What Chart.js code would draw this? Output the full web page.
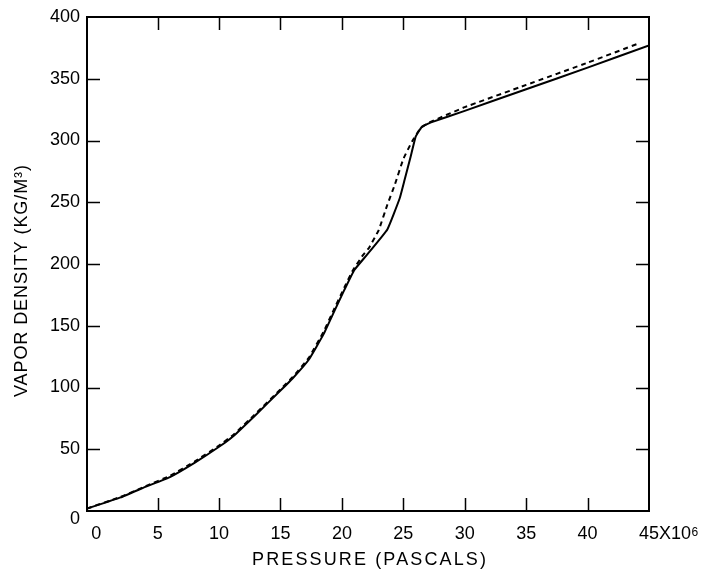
<!DOCTYPE html>
<html>
<head>
<meta charset="utf-8">
<script src="https://cdn.jsdelivr.net/npm/chart.js@4"></script>
<style>
  html, body { margin: 0; padding: 0; background: #fff; }
</style>
</head>
<body>
<canvas id="chart" width="707" height="580"></canvas>
<script>
// pressure in 10^6 Pa, density in kg/m3
const solidP = [-0.75, 2, 4, 6, 8, 10, 11.2, 13, 15, 16, 17.3, 18.5, 19.3, 20.2, 21, 22, 23.7, 24.7, 25.1, 25.6, 26.0, 26.5, 27.2, 30, 35, 40, 45];
const solidD = [2, 11, 19.5, 27.5, 39, 52, 61, 78, 97.5, 107.5, 122.5, 143, 160, 179, 195, 207, 228, 253, 268, 287, 303, 311, 314.5, 324, 341.5, 359, 377];

const dashP = [-0.75, 2, 4, 6, 8, 10, 11.2, 13, 15, 16, 17.3, 18.5, 19.3, 20.2, 20.9, 21.7, 22.2, 23.0, 23.7, 24.3, 25.0, 25.7, 26.4, 27.1, 30, 35, 40, 44];
const dashD = [2, 11.5, 20, 28.5, 40, 53, 62, 79, 98.5, 108.5, 124, 145, 162, 181, 195, 207, 213, 227.5, 248, 264, 285, 299, 310, 314.5, 327, 345, 363, 378];

const xTicks = [0, 5, 10, 15, 20, 25, 30, 35, 40, 45];
const yTicks = [0, 50, 100, 150, 200, 250, 300, 350, 400];

const xTitle = "PRESSURE (PASCALS)";
const yTitle = "VAPOR DENSITY (KG/M³)";
const xUnit = "X10";
const xUnitExp = "6";

const FONT = "'Liberation Sans', Arial, sans-serif";

function pts(xs, ys) {
  return xs.map((x, i) => ({ x: x, y: ys[i] }));
}

/* frame, inward ticks, titles */
const framePlugin = {
  id: "frame",
  afterDraw(chart) {
    const ctx = chart.ctx;
    const a = chart.chartArea;
    const xs = chart.scales.x;
    const ys = chart.scales.y;
    const tl = 13;

    ctx.save();
    ctx.strokeStyle = "#000";
    ctx.lineWidth = 2;
    ctx.strokeRect(a.left, a.top, a.right - a.left, a.bottom - a.top);

    ctx.lineWidth = 1.5;
    ctx.beginPath();
    xTicks.slice(1, -1).forEach(v => {
      const px = Math.round(xs.getPixelForValue(v)) + 0.5;
      ctx.moveTo(px, a.bottom); ctx.lineTo(px, a.bottom - tl);
      ctx.moveTo(px, a.top); ctx.lineTo(px, a.top + tl);
    });
    yTicks.slice(1, -1).forEach(v => {
      const py = Math.round(ys.getPixelForValue(v)) + 0.5;
      ctx.moveTo(a.left, py); ctx.lineTo(a.left + tl, py);
      ctx.moveTo(a.right, py); ctx.lineTo(a.right - tl, py);
    });
    ctx.stroke();

    // unit after the last x label
    ctx.fillStyle = "#000";
    ctx.font = "18px " + FONT;
    const lastX = xs.getPixelForValue(xTicks[xTicks.length - 1]);
    const lastW = ctx.measureText(String(xTicks[xTicks.length - 1])).width;
    ctx.textAlign = "left";
    ctx.textBaseline = "middle";
    const ux = lastX + lastW / 2;
    ctx.fillText(xUnit, ux, 534);
    const uw = ctx.measureText(xUnit).width;
    ctx.font = "12px " + FONT;
    ctx.textBaseline = "top";
    ctx.fillText(xUnitExp, ux + uw + 0.5, 527);

    // axis titles, letter-spaced
    drawSpaced(ctx, xTitle, 369, 560, 234, 0);
    drawSpaced(ctx, yTitle, 22, 281, 232, -Math.PI / 2);
    ctx.restore();
  }
};

function drawSpaced(ctx, text, cx, cy, target, rot) {
  ctx.save();
  ctx.font = "18px " + FONT;
  ctx.letterSpacing = "0px";
  const w = ctx.measureText(text).width;
  const sp = Math.max(0, (target - w) / (text.length - 1));
  ctx.letterSpacing = sp + "px";
  ctx.translate(cx, cy);
  ctx.rotate(rot);
  ctx.textAlign = "left";
  ctx.textBaseline = "middle";
  ctx.fillStyle = "#000";
  ctx.fillText(text, -target / 2, 0);
  ctx.restore();
}

const chart = new Chart(document.getElementById("chart").getContext("2d"), {
  type: "line",
  data: {
    datasets: [
      {
        data: pts(solidP, solidD),
        borderColor: "#000",
        borderWidth: 2,
        pointRadius: 0,
        tension: 0.1,
        fill: false
      },
      {
        data: pts(dashP, dashD),
        borderColor: "#000",
        borderWidth: 2,
        borderDash: [5, 4],
        pointRadius: 0,
        tension: 0.1,
        fill: false
      }
    ]
  },
  options: {
    responsive: false,
    animation: false,
    devicePixelRatio: 1,
    layout: { padding: { top: 17, right: 58, left: 0, bottom: 0 } },
    plugins: {
      legend: { display: false },
      tooltip: { enabled: false }
    },
    scales: {
      x: {
        type: "linear",
        min: -0.75,
        max: 45,
        grid: { display: false, drawTicks: false },
        border: { display: false },
        afterBuildTicks: s => { s.ticks = xTicks.map(v => ({ value: v })); },
        afterFit: s => { s.height = 69; },
        ticks: {
          padding: 12,
          color: "#000",
          maxRotation: 0,
          autoSkip: false,
          font: { family: FONT, size: 18 },
          callback: v => String(v)
        }
      },
      y: {
        type: "linear",
        min: 0,
        max: 400,
        grid: { display: false, drawTicks: false },
        border: { display: false },
        afterBuildTicks: s => { s.ticks = yTicks.map(v => ({ value: v })); },
        afterFit: s => { s.width = 87; },
        ticks: {
          padding: 7,
          color: "#000",
          autoSkip: false,
          font: { family: FONT, size: 18, lineHeight: 0.9 },
          callback: v => v === 0 ? ["", "0"] : String(v)
        }
      }
    }
  },
  plugins: [framePlugin]
});
</script>
</body>
</html>
